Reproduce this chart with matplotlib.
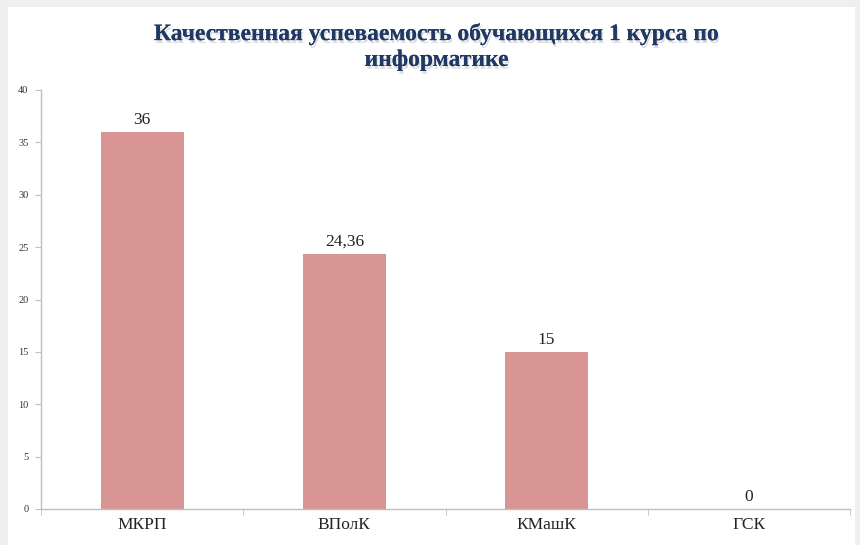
import matplotlib.pyplot as plt
import numpy as np
from matplotlib import patheffects

categories = ["МКРП", "ВПолК", "КМашК", "ГСК"]
values = [36, 24.36, 15, 0]
value_labels = ["36", "24,36", "15", "0"]
yticks = [0, 5, 10, 15, 20, 25, 30, 35, 40]

plt.rcParams['font.family'] = ['Liberation Serif', 'DejaVu Serif']

fig = plt.figure(figsize=(8.6, 5.45), dpi=100)
fig.patch.set_facecolor('#efefef')
# white chart panel behind everything
panel = plt.Rectangle((8 / 860, 0), 847 / 860, 1 - 7 / 545, transform=fig.transFigure,
                      facecolor='white', edgecolor='none', zorder=-10)
fig.patches.append(panel)

ax = fig.add_axes([41 / 860, 1 - 509 / 545, 809 / 860, (509 - 90) / 545])
ax.set_facecolor('none')

x = np.arange(len(categories))
bars = ax.bar(x, values, width=0.41, color='#d99594', zorder=2)

for xi, v, lab in zip(x, values, value_labels):
    ax.text(xi, v + 0.4, lab, ha='center', va='bottom', fontsize=12.5, color='#222222')

ax.set_xlim(-0.5, len(categories) - 0.5)
ax.set_ylim(0, 40)
ax.set_yticks(yticks)
ax.set_yticklabels([str(t) for t in yticks], fontsize=7.5, color='#333333')
ax.set_xticks(x)
ax.set_xticklabels(categories, fontsize=12.5, color='#222222')
ax.tick_params(axis='x', which='major', length=0, pad=6)
ax.set_xticks(np.arange(-0.5, len(categories), 1.0), minor=True)
ax.tick_params(axis='x', which='minor', length=4, color='#bfbfbf', direction='out')
ax.tick_params(axis='y', length=4, color='#bfbfbf', pad=5)

for s in ['top', 'right']:
    ax.spines[s].set_visible(False)
for s in ['left', 'bottom']:
    ax.spines[s].set_color('#bfbfbf')
    ax.spines[s].set_linewidth(1.0)

title = fig.text(0.508, 1 - 47 / 545,
                 "Качественная успеваемость обучающихся 1 курса по\nинформатике",
                 ha='center', va='center', fontsize=17, fontweight='bold',
                 color='#1f3864', linespacing=1.3)
title.set_path_effects([patheffects.withSimplePatchShadow(offset=(1, -2), alpha=0.15),
                        patheffects.Normal()])

plt.savefig('out.png', dpi=100, facecolor=fig.get_facecolor())
